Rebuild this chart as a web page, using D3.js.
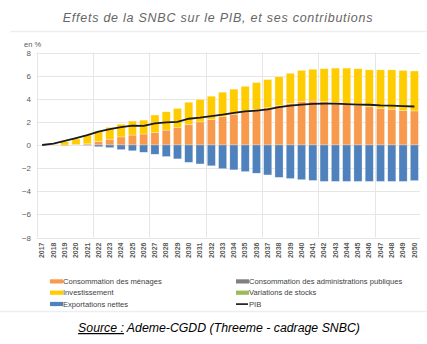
<!DOCTYPE html>
<html lang="fr">
<head>
<meta charset="UTF-8">
<title>Effets de la SNBC sur le PIB</title>
<script src="https://d3js.org/d3.v7.min.js"></script>
<style>
  body { margin: 0; background: #fff; }
  svg { display: block; font-family: "Liberation Sans", Arial, sans-serif; }
</style>
</head>
<body>
<svg id="chart" width="427" height="344"></svg>
<script>
const years = d3.range(2017, 2051).map(String);

const menages = [0, 0, -0.08, 0.05, 0.1, 0.3, 0.5, 0.7, 0.86, 0.95, 1.09, 1.29, 1.49, 1.78, 2.0, 2.2, 2.44,
  2.67, 2.87, 3.07, 3.25, 3.4, 3.6, 3.75, 3.8, 3.75, 3.65, 3.55, 3.45, 3.3, 3.15, 3.1, 3.0, 2.95];
const adminPub = years.map(() => 0);
const investissement = [0, 0.05, 0.29, 0.47, 0.76, 0.9, 1.02, 1.1, 1.21, 1.2, 1.5, 1.58, 1.67, 1.92, 1.94, 2.02, 2.13,
  2.16, 2.21, 2.33, 2.41, 2.5, 2.6, 2.7, 2.75, 2.85, 3.0, 3.1, 3.15, 3.2, 3.35, 3.4, 3.45, 3.45];
const stocks = years.map(() => 0);
const exportations = [0, 0, 0, 0, -0.03, -0.15, -0.23, -0.4, -0.5, -0.63, -0.8, -1.0, -1.2, -1.5, -1.64, -1.8, -2.05,
  -2.15, -2.3, -2.44, -2.59, -2.8, -2.9, -3.0, -3.07, -3.15, -3.15, -3.15, -3.15, -3.15, -3.15, -3.15, -3.15, -3.08];
const pib = [0, 0.12, 0.35, 0.6, 0.86, 1.15, 1.38, 1.55, 1.67, 1.65, 1.87, 1.95, 2.0, 2.27, 2.36, 2.5, 2.62,
  2.77, 2.9, 2.98, 3.08, 3.28, 3.4, 3.5, 3.56, 3.57, 3.57, 3.53, 3.5, 3.48, 3.42, 3.4, 3.37, 3.33];
const yTicks = [-8, -6, -4, -2, 0, 2, 4, 6, 8];

const series = [
  { key: "menages", label: "Consommation des ménages", color: "#f79a4d", values: menages },
  { key: "admin", label: "Consommation des administrations publiques", color: "#808080", values: adminPub },
  { key: "invest", label: "Investissement", color: "#ffcc00", values: investissement },
  { key: "stocks", label: "Variations de stocks", color: "#9bbb59", values: stocks },
  { key: "export", label: "Exportations nettes", color: "#4f81bd", values: exportations }
];

const rows = years.map((y, i) => {
  const r = { year: y };
  series.forEach(s => r[s.key] = s.values[i]);
  return r;
});

const svg = d3.select("#chart");
const textColor = "#595959";

// titre
svg.append("text")
  .attr("x", 218).attr("y", 22)
  .attr("text-anchor", "middle")
  .attr("font-style", "italic")
  .attr("font-size", 12.5)
  .attr("letter-spacing", 0.75)
  .attr("fill", "#666666")
  .text("Effets de la SNBC sur le PIB, et ses contributions");

svg.append("line")
  .attr("x1", 10).attr("x2", 427).attr("y1", 31.5).attr("y2", 31.5)
  .attr("stroke", "#eeeeee").attr("stroke-width", 1.5);

const x = d3.scaleBand().domain(years).range([36.5, 420]).paddingInner(0.28).paddingOuter(0.14);
const y = d3.scaleLinear().domain([-8, 8]).range([237.5, 52.5]);

// grille
const grid = svg.append("g");
grid.selectAll(".h").data(yTicks).join("line")
  .attr("x1", 36.5).attr("x2", 420)
  .attr("y1", d => Math.round(y(d)) + 0.5).attr("y2", d => Math.round(y(d)) + 0.5)
  .attr("stroke", "#e6e6e6");
const step = x.step();
grid.selectAll(".v").data(d3.range(0, 34, 5)).join("line")
  .attr("x1", d => Math.round(36.5 + d * step) + 0.5).attr("x2", d => Math.round(36.5 + d * step) + 0.5)
  .attr("y1", y(8)).attr("y2", y(-8))
  .attr("stroke", "#e6e6e6");

// axe y
svg.append("g")
  .attr("transform", "translate(31,0)")
  .call(d3.axisLeft(y).tickValues(yTicks).tickSize(0).tickPadding(0))
  .call(g => g.select(".domain").remove())
  .call(g => g.selectAll("text").attr("fill", textColor).attr("font-size", 8).attr("font-family", "Liberation Sans, Arial"));

svg.append("text")
  .attr("x", 24).attr("y", 47)
  .attr("font-size", 7.5).attr("fill", textColor)
  .text("en %");

// axe x
const xAxis = svg.append("g")
  .attr("transform", `translate(0,${y(-8)})`)
  .call(d3.axisBottom(x).tickSize(0).tickPadding(0))
  .call(g => g.select(".domain").remove());
xAxis.selectAll("text")
  .attr("transform", "translate(0,5) rotate(-90)")
  .attr("text-anchor", "end")
  .attr("dy", "0.32em")
  .attr("x", 0).attr("y", 0)
  .attr("font-size", 7)
  .attr("font-weight", "bold")
  .attr("fill", "#595959")
  .attr("font-family", "Liberation Sans Narrow, Liberation Sans, Arial");

// barres empilées
const stack = d3.stack().keys(series.map(s => s.key)).offset(d3.stackOffsetDiverging);
const stacked = stack(rows);

svg.append("g").selectAll("g").data(stacked).join("g")
  .attr("fill", (d, i) => series[i].color)
  .selectAll("rect").data(d => d).join("rect")
  .attr("x", d => x(d.data.year))
  .attr("width", x.bandwidth())
  .attr("y", d => y(Math.max(d[0], d[1])))
  .attr("height", d => Math.abs(y(d[0]) - y(d[1])))
  .attr("stroke", "#ffffff")
  .attr("stroke-opacity", 0.6)
  .attr("stroke-width", 0.5);

// ligne PIB
const line = d3.line()
  .x((d, i) => x(years[i]) + x.bandwidth() / 2)
  .y(d => y(d));
svg.append("path")
  .datum(pib)
  .attr("d", line)
  .attr("fill", "none")
  .attr("stroke", "#1a1a1a")
  .attr("stroke-width", 1.8);

// légende
const legendItems = [
  { label: series[0].label, color: series[0].color, col: 0, row: 0 },
  { label: series[1].label, color: series[1].color, col: 1, row: 0 },
  { label: series[2].label, color: series[2].color, col: 0, row: 1 },
  { label: series[3].label, color: series[3].color, col: 1, row: 1 },
  { label: series[4].label, color: series[4].color, col: 0, row: 2 },
  { label: "PIB", color: "#000000", col: 1, row: 2, line: true }
];
const colX = [50, 236];
const legend = svg.append("g").selectAll("g").data(legendItems).join("g")
  .attr("transform", d => `translate(${colX[d.col]},${281.5 + d.row * 11.3})`);
legend.filter(d => !d.line).append("rect")
  .attr("x", 0).attr("y", -2.2).attr("width", 13).attr("height", 4.2)
  .attr("fill", d => d.color);
legend.filter(d => d.line).append("line")
  .attr("x1", 0).attr("x2", 12).attr("y1", 0).attr("y2", 0)
  .attr("stroke", "#000").attr("stroke-width", 1.5);
legend.append("text")
  .attr("x", 13).attr("y", 0).attr("dy", "0.35em")
  .attr("font-size", 7.6).attr("fill", "#404040")
  .text(d => d.label);

svg.append("line")
  .attr("x1", 0).attr("x2", 427).attr("y1", 311.5).attr("y2", 311.5)
  .attr("stroke", "#eeeeee").attr("stroke-width", 1.5);

// source
const src = svg.append("text")
  .attr("x", 219).attr("y", 332)
  .attr("text-anchor", "middle")
  .attr("font-style", "italic")
  .attr("font-size", 12.3)
  .attr("fill", "#000");
src.append("tspan").attr("text-decoration", "underline").text("Source :");
src.append("tspan").text(" Ademe-CGDD (Threeme - cadrage SNBC)");
</script>
</body>
</html>
